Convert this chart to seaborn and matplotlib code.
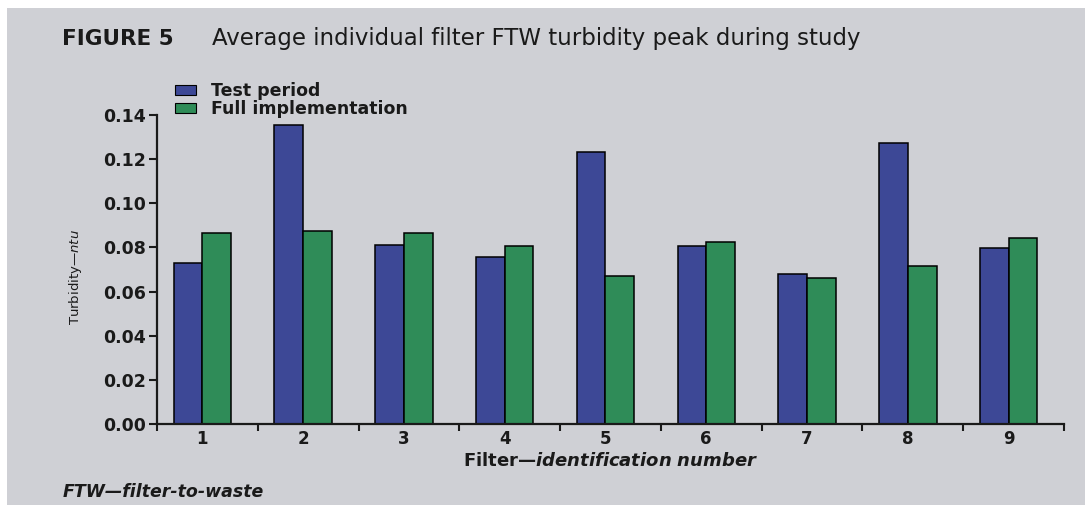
import matplotlib
matplotlib.use('Agg')
import matplotlib.pyplot as plt
import seaborn as sns
import pandas as pd
import numpy as np
from matplotlib.patches import Rectangle, Patch

# ---- data ----
filters = ['1', '2', '3', '4', '5', '6', '7', '8', '9']
test_period = [0.0731, 0.1353, 0.0811, 0.0758, 0.1232, 0.0808, 0.0678, 0.1275, 0.0799]
full_implementation = [0.0867, 0.0876, 0.0865, 0.0808, 0.0672, 0.0826, 0.0662, 0.0717, 0.0843]
series_names = ['Test period', 'Full implementation']
y_ticks = [0.00, 0.02, 0.04, 0.06, 0.08, 0.10, 0.12, 0.14]
y_tick_labels = ['0.00', '0.02', '0.04', '0.06', '0.08', '0.10', '0.12', '0.14']

df = pd.DataFrame({
    'Filter': filters * 2,
    'Turbidity': test_period + full_implementation,
    'Series': [series_names[0]] * len(filters) + [series_names[1]] * len(filters),
})

sns.set_theme(style='ticks')
plt.rcParams['font.family'] = ['DejaVu Sans']
plt.rcParams['mathtext.fontset'] = 'custom'
plt.rcParams['mathtext.rm'] = 'DejaVu Sans'
plt.rcParams['mathtext.it'] = 'DejaVu Sans:italic'
plt.rcParams['mathtext.bf'] = 'DejaVu Sans:italic:bold'

W, H = 1091, 507
BG = '#cfd0d5'
BLUE = '#3d4896'
GREEN = '#2f8c58'
INK = '#1a1a1a'

def fx(p):
    return p / W

def fy(p):
    return 1 - p / H

fig = plt.figure(figsize=(W / 100, H / 100), dpi=100, facecolor='white')
fig.patches.append(Rectangle((fx(7), fy(505)), fx(1085) - fx(7), fy(8) - fy(505),
                             transform=fig.transFigure, facecolor=BG, edgecolor='none', zorder=-10))

ax = fig.add_axes([fx(157), fy(424), fx(1064) - fx(157), fy(115) - fy(424)])
ax.set_facecolor('none')

sns.barplot(data=df, x='Filter', y='Turbidity', hue='Series', hue_order=series_names,
            palette=[BLUE, GREEN], saturation=1, width=0.57, gap=0,
            edgecolor='black', linewidth=1.1, legend=False, ax=ax)

ax.set_xlim(-0.45, 8.55)
ax.set_ylim(0, 0.14)
ax.set_yticks(y_ticks)
ax.set_yticklabels(y_tick_labels, fontsize=12.5, fontweight='bold', color=INK)
ax.set_xticks(range(len(filters)))
ax.set_xticklabels(filters, fontsize=12, fontweight='bold', color=INK)
ax.set_xticks(np.arange(-0.45, len(filters), 1.0), minor=True)
ax.tick_params(axis='x', which='major', length=0, pad=4)
ax.tick_params(axis='x', which='minor', length=5, width=1.5, direction='out', color=INK)
ax.tick_params(axis='y', which='major', length=6, width=1.5, direction='out', pad=2, color=INK)
sns.despine(ax=ax)
for s in ['left', 'bottom']:
    ax.spines[s].set_linewidth(1.6)
    ax.spines[s].set_color(INK)
ax.set_xlabel('')
ax.set_ylabel('')

# y label
fig.text(fx(75), fy(277), r'Turbidity—$\mathit{ntu}$', rotation=90, ha='center', va='center',
         fontsize=9.5, color=INK)
# x label
fig.text(fx(611), fy(461), r'Filter—$\mathbf{identification\ number}$', ha='center', va='center',
         fontsize=13, fontweight='bold', color=INK)

# title
fig.text(fx(62), fy(39), 'FIGURE 5', ha='left', va='center', fontsize=15.5,
         fontweight='bold', color=INK)
fig.text(fx(212), fy(39), 'Average individual filter FTW turbidity peak during study',
         ha='left', va='center', fontsize=16.5, color=INK)

# footnote
fig.text(fx(63), fy(492), 'FTW—filter-to-waste', ha='left', va='center', fontsize=12.5,
         fontweight='bold', fontstyle='italic', color=INK)

# legend
handles = [Patch(facecolor=BLUE, edgecolor='black', linewidth=0.8),
           Patch(facecolor=GREEN, edgecolor='black', linewidth=0.8)]
leg = fig.legend(handles, series_names, loc='upper left',
                 bbox_to_anchor=(fx(175), fy(82)), frameon=False,
                 prop={'weight': 'bold', 'size': 12.5}, handlelength=1.2, handleheight=0.5,
                 handletextpad=0.85, labelspacing=0.02, borderaxespad=0, borderpad=0)
for t in leg.get_texts():
    t.set_color(INK)

fig.savefig('out.png', dpi=100, facecolor='white')
